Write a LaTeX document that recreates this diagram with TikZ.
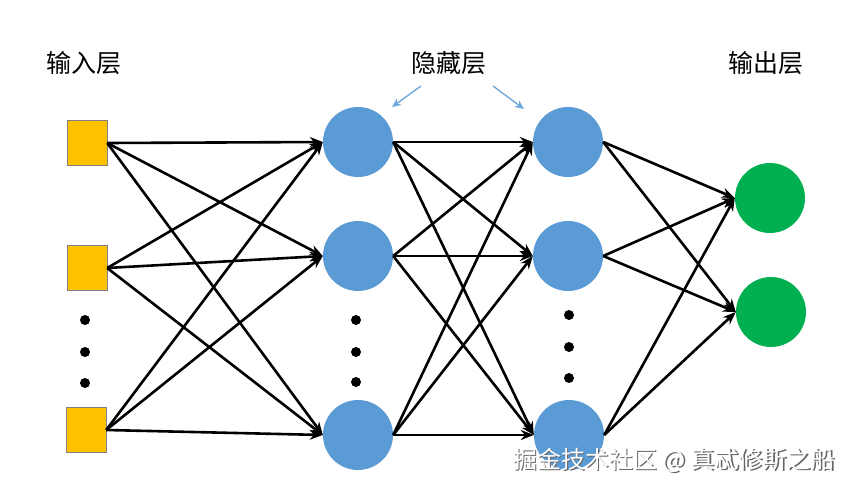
\documentclass[tikz,border=0pt]{standalone}
\usepackage{fontspec}
\setmainfont{Noto Sans CJK SC}
\usetikzlibrary{arrows.meta}

\definecolor{inyellow}{HTML}{FFC000}
\definecolor{hidblue}{HTML}{5B9BD5}
\definecolor{outgreen}{HTML}{00B050}
\definecolor{noteblue}{HTML}{6FA8DC}

\tikzset{
  inbox/.style={draw=gray, fill=inyellow, minimum width=40pt, minimum height=45pt, inner sep=0pt},
  hidnode/.style={circle, fill=hidblue, minimum size=70pt, inner sep=0pt},
  outnode/.style={circle, fill=outgreen, minimum size=70pt, inner sep=0pt},
  dotnode/.style={circle, fill=black, minimum size=10pt, inner sep=0pt},
  link/.style={line width=2.6pt, -{Stealth[length=13pt,width=10pt]}},
  notearrow/.style={draw=noteblue, line width=1.4pt, -{Stealth[length=9pt,width=8pt]}},
  layertitle/.style={font=\fontsize{25}{28}\selectfont},
}

\begin{document}
\begin{tikzpicture}[x=1pt, y=-1pt]
  \useasboundingbox[fill=white] (0,0) rectangle (855,488);

  % titles
  \node[layertitle] (tin)  at (84,63)  {输入层};
  \node[layertitle] (thid) at (449,63) {隐藏层};
  \node[layertitle] (tout) at (766,63) {输出层};

  % input layer
  \node[inbox] (in1) at (87,143) {};
  \node[inbox] (in2) at (87,268) {};
  \node[inbox] (in3) at (86,430) {};
  \node[dotnode] (ind1) at (85,320) {};
  \node[dotnode] (ind2) at (85,352) {};
  \node[dotnode] (ind3) at (85,383) {};

  % hidden layers
  \node[hidnode] (hA1) at (358,142) {};
  \node[hidnode] (hA2) at (358,256) {};
  \node[hidnode] (hA3) at (358,435) {};
  \node[dotnode] (hAd1) at (356,320) {};
  \node[dotnode] (hAd2) at (356,352) {};
  \node[dotnode] (hAd3) at (356,382) {};

  \node[hidnode] (hB1) at (568,142) {};
  \node[hidnode] (hB2) at (568,256) {};
  \node[hidnode] (hB3) at (569,435) {};
  \node[dotnode] (hBd1) at (569,315) {};
  \node[dotnode] (hBd2) at (569,347) {};
  \node[dotnode] (hBd3) at (569,378) {};

  % output layer
  \node[outnode] (out1) at (770,198) {};
  \node[outnode] (out2) at (771,312) {};

  % connections
  \foreach \i in {1,2,3}
    \foreach \j in {1,2,3} {
      \draw[link] (in\i.east) -- (hA\j.west);
      \draw[link] (hA\i.east) -- (hB\j.west);
    }
  \foreach \i in {1,2,3}
    \foreach \j in {1,2}
      \draw[link] (hB\i.east) -- (out\j.west);

  % pointers from the hidden title
  \coordinate (nl) at (421,86);
  \coordinate (nlend) at (392,107);
  \coordinate (nr) at (493,86);
  \coordinate (nrend) at (524,109);
  \draw[notearrow] (nl) -- (nlend);
  \draw[notearrow] (nr) -- (nrend);

  % watermark
  \node[font=\fontsize{24}{26}\selectfont, text=black!60] (wmshadow) at (675.5,461.5) {掘金技术社区 @ 真忒修斯之船};
  \node[font=\fontsize{24}{26}\selectfont, text=white] (wm) at (674,460) {掘金技术社区 @ 真忒修斯之船};
\end{tikzpicture}
\end{document}
